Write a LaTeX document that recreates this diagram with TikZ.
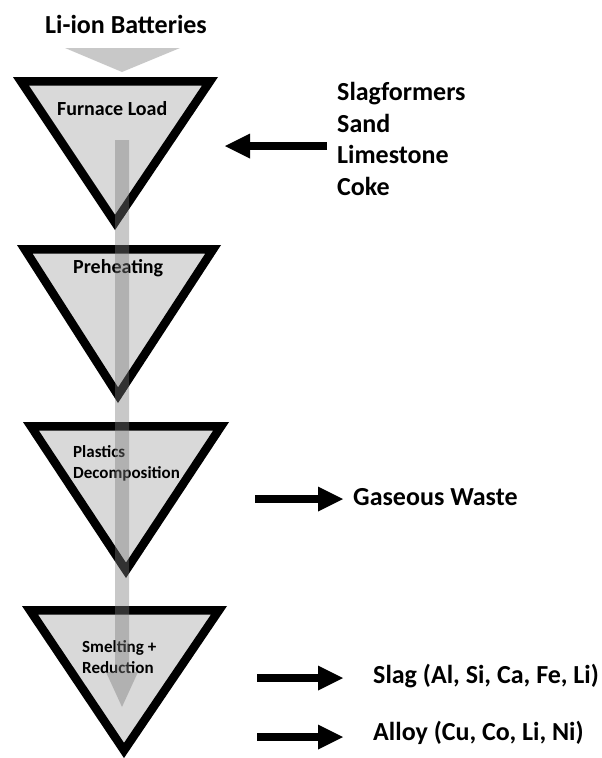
\documentclass[tikz,border=0pt]{standalone}
\usepackage{fontspec}
\setmainfont{Carlito}
\usetikzlibrary{arrows.meta}
\definecolor{funnelgray}{RGB}{217,217,217}
\definecolor{flowgray}{RGB}{122,122,122}
\tikzset{
  funnelfill/.style={fill=funnelgray},
  funnelrim/.style={draw=black,line width=17pt,line join=miter},
  flow/.style={fill=flowgray,fill opacity=0.41},
  bigtext/.style={inner sep=0pt,font=\bfseries\fontsize{26}{31}\selectfont},
  midtext/.style={inner sep=0pt,font=\bfseries\fontsize{20}{24}\selectfont},
  smalltext/.style={inner sep=0pt,font=\bfseries\fontsize{17}{21}\selectfont},
  blackarrow/.style={draw=black,line width=8pt,-{Triangle[length=25pt,width=25pt,line width=0pt]}}
}
\newcommand\funnel[3]{%
  \begin{scope}
    \clip (#1) -- (#2) -- (#3) -- cycle;
    \fill[funnelfill] (#1) -- (#2) -- (#3) -- cycle;
    \draw[funnelrim] (#1) -- (#2) -- (#3) -- cycle;
  \end{scope}}
\begin{document}
\begin{tikzpicture}[x=1pt,y=-1pt]
\useasboundingbox (0,0) rectangle (602,758);
% funnel corners
\coordinate (f1l) at (13,77);  \coordinate (f1r) at (218,77);  \coordinate (f1a) at (115,230);
\coordinate (f2l) at (17,245); \coordinate (f2r) at (221,245); \coordinate (f2a) at (118,403);
\coordinate (f3l) at (23,422); \coordinate (f3r) at (229,422); \coordinate (f3a) at (126,578);
\coordinate (f4l) at (22,606); \coordinate (f4r) at (227,606); \coordinate (f4a) at (124,758);
\funnel{f1l}{f1r}{f1a}
\funnel{f2l}{f2r}{f2a}
\funnel{f3l}{f3r}{f3a}
\funnel{f4l}{f4r}{f4a}
% stage labels
\node[midtext,anchor=base west] (load) at (57,115) {Furnace Load};
\node[midtext,anchor=base west] (preheat) at (73,273) {Preheating};
\node[smalltext,anchor=base west] (plast1) at (73,457) {Plastics};
\node[smalltext,anchor=base west] (plast2) at (73,478) {Decomposition};
\node[smalltext,anchor=base west] (smelt1) at (82,652) {Smelting +};
\node[smalltext,anchor=base west] (smelt2) at (82,673) {Reduction};
% input
\node[bigtext,anchor=base west] (liion) at (45,33) {Li-ion Batteries};
\coordinate (inl) at (65,48); \coordinate (inr) at (180,48); \coordinate (intip) at (122,72);
\fill[flow] (inl) -- (inr) -- (intip) -- cycle;
% long flow arrow
\coordinate (flowtop) at (122,140);
\coordinate (flowtip) at (122,707);
\fill[flow] ([xshift=-7pt]flowtop) -- ([xshift=7pt]flowtop)
  -- ([xshift=7pt,yshift=35pt]flowtip) -- ([xshift=16pt,yshift=35pt]flowtip)
  -- (flowtip)
  -- ([xshift=-16pt,yshift=35pt]flowtip) -- ([xshift=-7pt,yshift=35pt]flowtip) -- cycle;
% slagformers
\node[bigtext,anchor=base west] (sf1) at (337,100) {Slagformers};
\node[bigtext,anchor=base west] (sf2) at (337,132) {Sand};
\node[bigtext,anchor=base west] (sf3) at (337,163) {Limestone};
\node[bigtext,anchor=base west] (sf4) at (337,195) {Coke};
\coordinate (sfa) at (327,146); \coordinate (sfb) at (225,146);
\draw[blackarrow] (sfa) -- (sfb);
% outputs
\node[bigtext,anchor=base west] (gas) at (353,505) {Gaseous Waste};
\coordinate (gasa) at (255,499); \coordinate (gasb) at (343,499);
\draw[blackarrow] (gasa) -- (gasb);
\node[bigtext,anchor=base west] (slag) at (373,683) {Slag (Al, Si, Ca, Fe, Li)};
\coordinate (slaga) at (257,678); \coordinate (slagb) at (343,678);
\draw[blackarrow] (slaga) -- (slagb);
\node[bigtext,anchor=base west] (alloy) at (373,740) {Alloy (Cu, Co, Li, Ni)};
\coordinate (alloya) at (257,737); \coordinate (alloyb) at (343,737);
\draw[blackarrow] (alloya) -- (alloyb);
\end{tikzpicture}
\end{document}
